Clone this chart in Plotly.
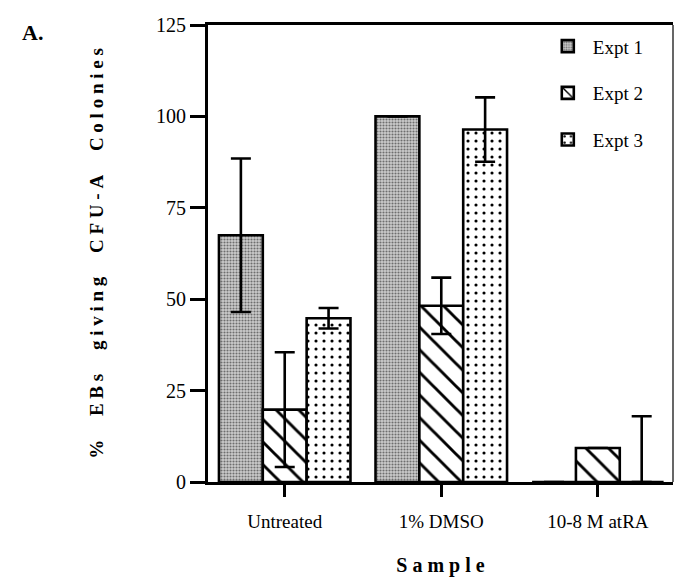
import plotly.graph_objects as go

# ---- data ----
categories = ["Untreated", "1% DMSO", "10-8 M atRA"]
series_names = ["Expt 1", "Expt 2", "Expt 3"]
expt1 = [67.5, 100.0, 0.0]
expt1_err = [21.0, 0.0, 0.0]
expt2 = [19.8, 48.2, 9.3]
expt2_err = [15.7, 7.7, 0.0]
expt3 = [44.8, 96.4, 0.0]
expt3_err_plus = [2.8, 8.8, 18.0]
expt3_err_minus = [2.8, 8.8, 0.0]
y_ticks = [0, 25, 50, 75, 100, 125]

FONT = "Liberation Serif"
LINE = 2.6


def spaced(text, letter="\u2005", word="\u2003\u2005"):
    return word.join(letter.join(list(w)) for w in text.split(" "))


patterns = [
    dict(shape=".", bgcolor="#cdcdcd", fgcolor="#6e6e6e", size=3, solidity=0.4,
         fgopacity=1),
    dict(shape="\\", bgcolor="white", fgcolor="black", size=16, solidity=0.18,
         fgopacity=1, fillmode="replace"),
    dict(shape=".", bgcolor="white", fgcolor="black", size=8, solidity=0.12,
         fgopacity=1, fillmode="replace"),
]

fig = go.Figure()
values = [expt1, expt2, expt3]
errs = [
    dict(type="data", array=expt1_err, symmetric=True),
    dict(type="data", array=expt2_err, symmetric=True),
    dict(type="data", array=expt3_err_plus, arrayminus=expt3_err_minus, symmetric=False),
]
for name, vals, err, pat in zip(series_names, values, errs, patterns):
    err.update(color="black", thickness=LINE, width=10)
    fig.add_trace(go.Bar(
        x=categories, y=vals, name=name,
        marker=dict(color=pat["bgcolor"], pattern=pat,
                    line=dict(color="black", width=LINE)),
        error_y=err,
        legendgroup=name,
    ))

fig.update_layout(
    width=676, height=588,
    margin=dict(l=208, r=3, t=25, b=106),
    paper_bgcolor="white", plot_bgcolor="white",
    barmode="group", bargap=0.16, bargroupgap=0,
    font=dict(family=FONT, color="black", size=19),
    showlegend=True,
    legend=dict(x=0.72, y=0.995, xanchor="left", yanchor="top",
                bgcolor="rgba(0,0,0,0)", traceorder="grouped",
                tracegroupgap=19, font=dict(size=19, family=FONT),
                itemwidth=40),
    xaxis=dict(range=[-0.49, 2.48], showline=True, linecolor="black",
               linewidth=LINE, mirror=True, ticks="outside", ticklen=12,
               tickwidth=LINE, tickcolor="black", showgrid=False,
               ticklabelstandoff=8,
               tickfont=dict(size=19, family=FONT),
               title=dict(text=spaced("Sample", letter="\u2005"),
                          font=dict(size=20, family=FONT, weight="bold"),
                          standoff=28)),
    yaxis=dict(range=[0, 125], tickvals=y_ticks, showline=True,
               linecolor="black", linewidth=3, ticks="outside", ticklen=15,
               tickwidth=LINE, tickcolor="black", showgrid=False,
               zeroline=False, tickfont=dict(size=20, family=FONT),
               title=dict(text=spaced("% EBs giving CFU-A Colonies"),
                          font=dict(size=19, family=FONT, weight="bold"),
                          standoff=48)),
    shapes=[dict(type="line", xref="paper", yref="paper", x0=1, x1=1,
                 y0=0, y1=1, line=dict(color="black", width=1.2))],
    annotations=[dict(text="<b>A.</b>", xref="paper", yref="paper",
                      x=-0.405, y=1.015, xanchor="left", yanchor="top",
                      showarrow=False, font=dict(size=22, family=FONT))],
)

fig.write_html("out.html")
